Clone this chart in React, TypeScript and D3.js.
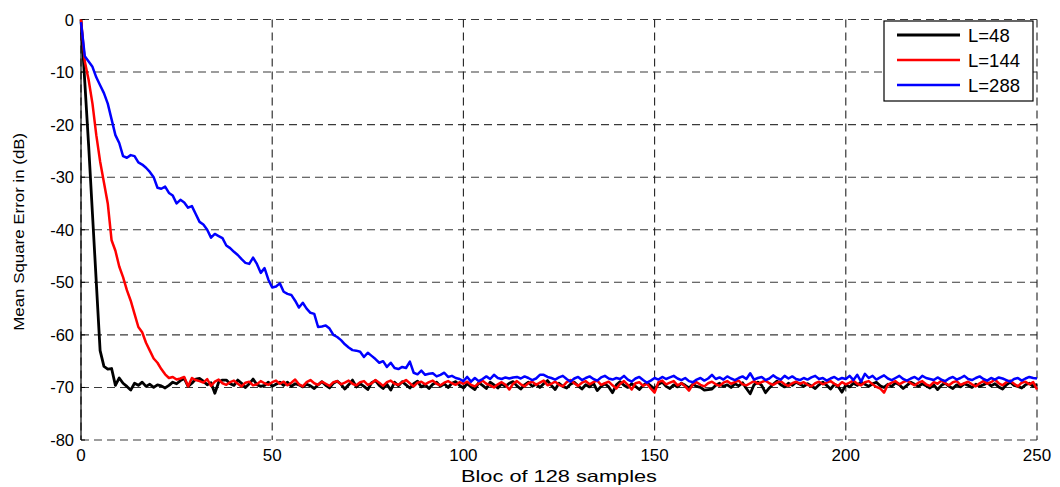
import React, { useEffect } from "react";
import * as d3 from "d3";

const W = 1060;
const H = 487;

const xTicks = [0, 50, 100, 150, 200, 250];
const yTicks = [0, -10, -20, -30, -40, -50, -60, -70, -80];
const seriesNames = ["L=48", "L=144", "L=288"];
const seriesColors = ["#000000", "#ff0000", "#0000ff"];
const xLabel = "Bloc of 128 samples";
const yLabel = "Mean Square Error in (dB)";

// MSE in dB for blocks 0..250
const mseL48 = [
  0, -12, -24, -37, -50, -63, -66, -66.5, -66.4, -69.6,
  -68.2, -69.2, -69.8, -70.5, -69.2, -69.6, -69.0, -69.8, -69.4, -70.0,
  -69.5, -69.7, -70.1, -69.6, -69.0, -69.3, -68.7, -68.3, -69.8, -69.2,
  -68.4, -68.3, -68.8, -69.5, -69.1, -71.1, -69.0, -68.6, -68.6, -69.3,
  -69.6, -68.6, -69.2, -70.0, -69.3, -68.4, -69.5, -69.8, -69.6, -69.0,
  -69.8, -69.4, -69.0, -69.6, -69.0, -69.8, -69.3, -69.5, -69.9, -69.4,
  -69.7, -70.2, -69.5, -68.9, -69.6, -70.1, -69.2, -68.8, -69.4, -70.3,
  -69.5, -68.6, -69.9, -69.3, -69.8, -70.4, -69.1, -68.7, -69.6, -70.2,
  -69.4, -70.5, -69.0, -69.7, -68.9, -69.5, -70.1, -69.3, -68.8, -69.9,
  -69.5, -70.2, -69.4, -69.0, -69.8, -69.3, -70.0, -69.2, -68.9, -69.6,
  -70.1, -69.3, -69.9, -70.4, -69.1, -69.6, -70.2, -69.0, -69.5, -70.1,
  -69.3, -69.8, -69.2, -68.9, -69.7, -70.3, -69.5, -69.0, -69.8, -69.4,
  -70.0, -69.3, -68.7, -69.6, -70.4, -69.2, -69.8, -70.1, -69.4, -69.0,
  -69.7, -70.3, -69.5, -69.9, -69.2, -70.6, -69.8, -69.3, -69.9, -71.0,
  -69.5, -68.9, -69.6, -70.0, -69.3, -69.8, -70.4, -69.6, -69.1, -69.7,
  -70.3, -69.4, -69.0, -69.8, -70.2, -69.5, -69.9, -69.2, -69.6, -70.1,
  -69.4, -69.8, -70.0, -70.5, -70.4, -70.3, -69.6, -69.2, -69.8, -69.5,
  -70.0, -69.3, -69.7, -69.1, -70.2, -71.2, -69.5, -69.0, -69.6, -71.0,
  -70.1, -69.4, -68.8, -69.5, -69.9, -69.2, -69.6, -69.0, -69.4, -69.8,
  -69.3, -69.7, -70.2, -69.5, -69.0, -69.6, -70.3, -69.4, -69.8, -70.9,
  -69.5, -69.9, -69.2, -69.6, -69.0, -69.4, -69.8, -69.3, -69.0, -69.7,
  -70.0, -69.4, -69.8, -69.1, -69.5, -70.2, -69.6, -69.0, -69.4, -69.8,
  -69.3, -69.7, -70.1, -69.5, -70.4, -69.6, -69.2, -69.8, -70.2, -69.5,
  -69.9, -69.3, -69.6, -70.0, -69.4, -69.8, -69.5, -69.1, -69.7, -69.3,
  -69.9, -70.3, -69.5, -69.0, -69.6, -69.8, -70.1, -69.5, -69.2, -69.8,
  -69.4,
];

const mseL144 = [
  0, -8, -11.5, -16, -22, -27, -31, -35, -42, -44,
  -47, -49, -51.5, -53.5, -56, -58.5, -59.5, -61.5, -63, -64.5,
  -65.3, -66.5, -67.5, -68.2, -68.0, -68.5, -68.3, -68.0, -69.8, -68.2,
  -68.6, -68.8, -69.1, -68.4, -69.7, -68.9, -68.5, -69.2, -69.5, -69.0,
  -68.7, -69.3, -69.8, -69.1, -68.9, -69.6, -69.4, -68.8, -69.2, -69.5,
  -69.0, -68.7, -69.3, -68.9, -69.6, -69.1, -68.5, -69.4, -69.8, -69.0,
  -68.6, -69.2, -69.5, -68.9, -69.3, -69.7, -69.0, -68.8, -69.4, -69.1,
  -68.7, -69.3, -69.6, -69.0, -68.8, -69.5, -69.2, -68.6, -69.1, -69.7,
  -69.0, -68.7, -69.3, -69.5, -69.0, -68.6, -69.2, -69.8, -69.1, -68.9,
  -69.4, -69.0, -68.7, -69.3, -69.6, -69.1, -68.8, -69.2, -69.5, -69.0,
  -69.3, -68.9, -69.5, -69.8, -69.2, -68.7, -69.3, -69.6, -70.0, -69.4,
  -69.0, -69.5, -70.4, -69.3, -68.8, -69.4, -69.8, -69.2, -68.9, -69.5,
  -69.1, -68.7, -69.6, -69.3, -68.9, -69.5, -69.8, -69.0, -68.6, -69.2,
  -69.7, -69.1, -68.8, -69.4, -69.0, -68.7, -69.5, -69.2, -68.9, -69.6,
  -70.2, -69.3, -68.8, -69.5, -70.4, -69.2, -69.0, -69.7, -69.3, -70.2,
  -71.0, -69.0, -68.7, -69.4, -69.1, -68.8, -69.6, -69.2, -69.8, -70.6,
  -69.4, -69.0, -69.5, -69.8, -69.2, -68.9, -69.4, -69.7, -69.1, -68.8,
  -69.3, -69.0, -68.7, -69.4, -69.6, -69.2, -68.8, -69.3, -69.0, -68.7,
  -69.2, -69.5, -69.1, -68.8, -69.4, -69.7, -69.2, -68.9, -69.3, -69.0,
  -69.5, -69.8, -69.2, -68.9, -69.4, -69.1, -68.8, -69.3, -69.7, -69.0,
  -69.4, -69.1, -68.7, -69.3, -69.6, -69.0, -68.8, -69.4, -69.9, -70.2,
  -71.0, -69.5, -69.1, -68.8, -69.4, -69.0, -68.7, -69.2, -69.6, -69.1,
  -68.8, -69.4, -69.7, -69.0, -69.3, -68.7, -69.2, -69.6, -69.0, -68.8,
  -69.5, -69.2, -68.9, -69.4, -69.8, -69.2, -68.8, -69.3, -69.0, -68.5,
  -69.2, -69.6, -69.0, -68.7, -69.3, -69.8, -69.1, -68.9, -69.4, -69.0,
  -70.4,
];

const mseL288 = [
  -0.5, -7, -8, -9, -11, -12.5, -14, -16, -19, -22,
  -23.5, -26, -26.3, -25.8, -26, -27.2, -27.6, -28.2, -29, -30,
  -32, -32.2, -31.8, -33, -33.5, -35, -34.3, -34.8, -35.8, -35.5,
  -37, -38.5, -39, -40, -41.5, -40.8, -41.2, -41.6, -43, -43.5,
  -44.2, -44.8, -45.6, -46.3, -46.5, -45.3, -46.5, -48.2, -47.3, -49.5,
  -51, -50.8, -50.2, -51.8, -52.2, -52.4, -53.5, -54.8, -53.9, -55,
  -55.8, -56, -58.5, -58.4, -58.2, -58.8, -60, -60.4, -61, -61.8,
  -62.4, -62.9, -63, -63.2, -64.2, -63.4, -64, -64.6, -65.3, -65,
  -66.1, -65.3, -66.3, -66.5, -66.1, -66.3, -65.1, -67.2, -67.5, -66.8,
  -67.6, -67.4, -67.3, -67.9, -67.6, -67.2, -68, -67.8, -68.2, -68.4,
  -68.8, -68, -68.9, -68.2, -68.8, -68.4, -67.9, -68.4, -67.6, -68.2,
  -68.4, -68.1, -68.3, -68.1, -68.0, -68.3, -67.9, -68.2, -68.6, -68.3,
  -67.6, -67.6, -68.0, -68.2, -68.5, -68.1, -67.8, -68.4, -68.9, -68.3,
  -68.0, -68.6, -68.2, -67.9, -68.4, -68.7, -68.1, -67.8, -68.3, -68.5,
  -68.2, -68.4, -67.8, -68.5, -68.9, -68.3, -68.0, -68.6, -69.1, -68.7,
  -68.2, -68.5, -68.0, -68.4, -68.1, -67.8, -68.3, -68.6, -68.2, -68.8,
  -69.0, -68.5, -68.2, -68.7, -68.3, -67.6, -68.4, -68.1, -68.5, -67.9,
  -68.3, -68.6, -68.2, -67.9, -68.4, -67.3, -68.5, -68.2, -68.0, -68.6,
  -68.3, -67.7, -68.2, -68.5, -67.8, -68.3, -67.9, -68.4, -68.6, -68.2,
  -68.5, -68.1, -67.8, -68.4, -68.2, -68.7, -68.3, -68.0, -68.5, -68.2,
  -68.4, -67.8, -68.6, -67.6, -68.9, -67.4, -68.2, -67.8, -68.5, -68.1,
  -67.7, -68.3, -68.6, -68.2, -67.8, -68.4, -68.7, -68.3, -68.0, -68.5,
  -67.8, -68.2, -68.4, -68.6, -68.1, -68.5, -68.8, -68.3, -68.0, -68.5,
  -68.2, -67.8, -68.4, -68.6, -68.2, -67.9, -68.4, -68.7, -68.2, -68.5,
  -68.1, -68.3, -68.6, -68.9, -68.4, -68.2, -68.7, -68.3, -68.0, -68.2,
  -68.3,
];

const allSeries = [mseL48, mseL144, mseL288];
const seriesWidths = [2.8, 2.5, 2.5];

export default function App() {
  useEffect(() => {
    document.body.style.margin = "0";
  }, []);

  const left = 81;
  const right = 1037;
  const top = 19.5;
  const bottom = 440;

  const x = d3.scaleLinear().domain([0, 250]).range([left, right]);
  const y = d3.scaleLinear().domain([-80, 0]).range([bottom, top]);

  const line = d3
    .line<number>()
    .x((_, i) => x(i))
    .y((d) => y(d));

  const font = "Arial, 'Liberation Sans', Helvetica, sans-serif";

  return (
    <svg width={W} height={H} style={{ display: "block", background: "#fff" }} fontFamily={font}>
      <rect x={0} y={0} width={W} height={H} fill="#fff" />
      {/* horizontal grid */}
      {yTicks.map((t) => (
        <line
          key={"gy" + t}
          x1={left}
          x2={right}
          y1={y(t)}
          y2={y(t)}
          stroke="#3a3a3a"
          strokeWidth={1.1}
          strokeDasharray="8,5"
        />
      ))}
      {/* vertical grid */}
      {xTicks.map((t) => (
        <line
          key={"gx" + t}
          x1={x(t)}
          x2={x(t)}
          y1={top}
          y2={bottom}
          stroke="#222"
          strokeWidth={1.1}
          strokeDasharray="8,5"
        />
      ))}
      {/* left axis */}
      <line x1={left} x2={left} y1={top} y2={bottom} stroke="#000" strokeWidth={1.2} />
      {/* ticks */}
      {yTicks.map((t) => (
        <line key={"ty" + t} x1={left} x2={left + 4} y1={y(t)} y2={y(t)} stroke="#000" />
      ))}
      {/* y tick labels */}
      {yTicks.map((t) => (
        <text
          key={"ly" + t}
          x={left - 7}
          y={y(t)}
          textAnchor="end"
          dominantBaseline="central"
          fontSize={16.5}
          fill="#000"
        >
          {t}
        </text>
      ))}
      {/* x tick labels */}
      {xTicks.map((t) => (
        <text key={"lx" + t} x={x(t)} y={461} textAnchor="middle" fontSize={17} fill="#000">
          {t}
        </text>
      ))}
      {/* axis labels */}
      <text
        x={(left + right) / 2}
        y={482}
        textAnchor="middle"
        fontSize={16.5}
        textLength={196}
        lengthAdjust="spacingAndGlyphs"
        fill="#000"
      >
        {xLabel}
      </text>
      <text
        transform={`translate(24, ${(top + bottom) / 2 + 2}) rotate(-90)`}
        textAnchor="middle"
        fontSize={15.5}
        textLength={198}
        lengthAdjust="spacingAndGlyphs"
        fill="#000"
      >
        {yLabel}
      </text>
      {/* series */}
      {allSeries.map((s, i) => (
        <path
          key={"s" + i}
          d={line(s) || ""}
          fill="none"
          stroke={seriesColors[i]}
          strokeWidth={seriesWidths[i]}
          strokeLinejoin="round"
        />
      ))}
      {/* legend */}
      <g>
        <rect x={884} y={21} width={149} height={80} fill="#fff" stroke="#000" strokeWidth={1.2} />
        {seriesNames.map((n, i) => (
          <g key={"lg" + i}>
            <line
              x1={897}
              x2={960}
              y1={35 + i * 25}
              y2={35 + i * 25}
              stroke={seriesColors[i]}
              strokeWidth={seriesWidths[i]}
            />
            <text x={968} y={35 + i * 25} dominantBaseline="central" fontSize={18.5} fill="#000">
              {n}
            </text>
          </g>
        ))}
      </g>
    </svg>
  );
}
